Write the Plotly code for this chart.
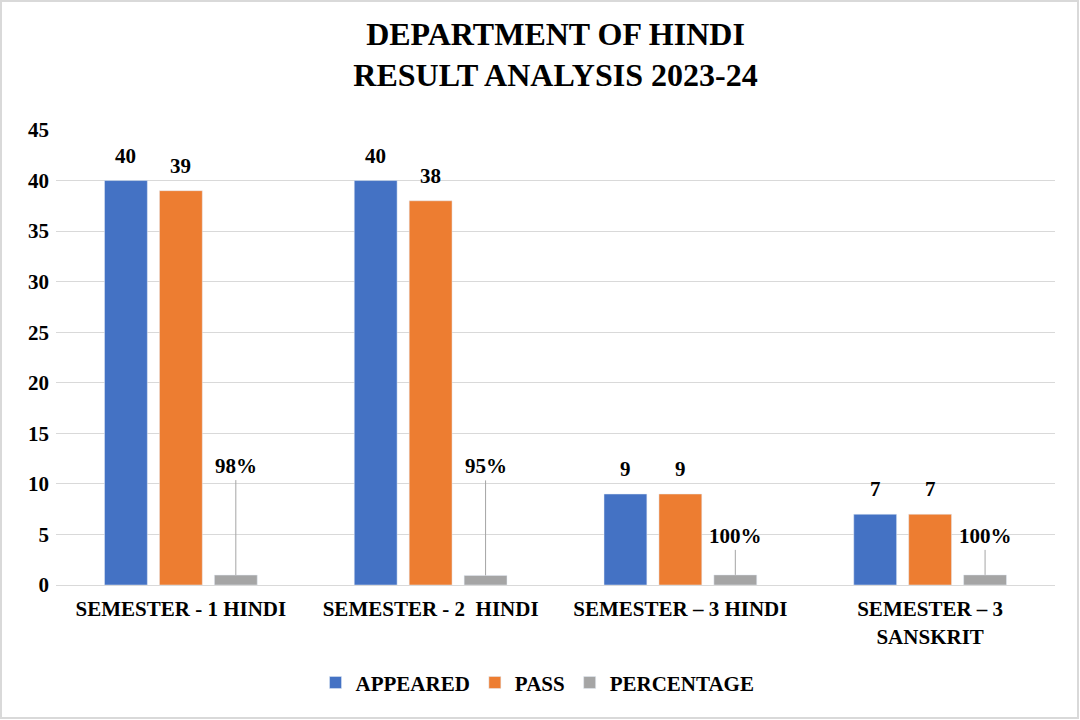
import plotly.graph_objects as go

# chart data
categories = ["SEMESTER - 1 HINDI", "SEMESTER - 2  HINDI", "SEMESTER – 3 HINDI", "SEMESTER – 3<br>SANSKRIT"]
appeared = [40, 40, 9, 7]
passed = [39, 38, 9, 7]
percentage = [0.98, 0.95, 1.0, 1.0]
pct_labels = ["98%", "95%", "100%", "100%"]

FONT = "Liberation Serif"
W, H = 1080, 720
L, R, T, B = 56, 25, 130, 135

fig = go.Figure()
fig.add_trace(go.Bar(x=categories, y=appeared, name="APPEARED", marker_color="#4472C4"))
fig.add_trace(go.Bar(x=categories, y=passed, name="PASS", marker_color="#ED7D31"))
fig.add_trace(go.Bar(x=categories, y=percentage, name="PERCENTAGE", marker_color="#A5A5A5"))

bargap = 0.34
slot = (1 - bargap) / 3
lab_font = dict(family=FONT, size=21, color="black", weight="bold")

# value labels above the count bars
for i in range(len(categories)):
    for off, vals in ((-slot, appeared), (0, passed)):
        fig.add_annotation(x=i + off, y=vals[i], text=str(vals[i]), showarrow=False,
                           yanchor="bottom", yshift=11, font=lab_font)

# percentage labels sit high above the tiny bars with leader lines
for i, lab in enumerate(pct_labels):
    offset = -95 if appeared[i] > 20 else -25
    fig.add_annotation(x=i + slot, y=percentage[i], text=lab, showarrow=True,
                       arrowhead=0, arrowwidth=1, arrowcolor="#A5A5A5",
                       ax=0, ay=offset, standoff=0, yanchor="bottom",
                       font=lab_font)

pw = W - L - R
ph = H - T - B
fig.add_shape(type="rect", xref="paper", yref="paper",
              x0=-(L - 1) / pw, x1=1 + (R - 2) / pw,
              y0=-(B - 2) / ph, y1=1 + (T - 1) / ph,
              line=dict(color="#D9D9D9", width=2), layer="below")

fig.update_layout(
    width=W, height=H,
    margin=dict(l=L, r=R, t=T, b=B),
    paper_bgcolor="white", plot_bgcolor="white",
    barmode="group", bargap=bargap, bargroupgap=0.22,
    title=dict(text="DEPARTMENT OF HINDI<br>RESULT ANALYSIS 2023-24",
               x=0.5, xref="paper", xanchor="center", y=0.938, yanchor="middle",
               font=dict(family=FONT, size=32, color="black", weight="bold")),
    font=dict(family=FONT, size=21, color="black", weight="bold"),
    legend=dict(orientation="h", x=0.482, xanchor="center",
                y=-0.215, yanchor="middle",
                font=dict(family=FONT, size=21, weight="bold"), itemwidth=30),
)
fig.update_yaxes(range=[0, 45], dtick=5, showgrid=True, gridcolor="#D9D9D9", gridwidth=1,
                 zeroline=False, showline=False, ticks="", ticklabelstandoff=6,
                 tickfont=dict(family=FONT, size=21, weight="bold"))
fig.update_xaxes(showline=True, linecolor="#D9D9D9", linewidth=1, ticks="",
                 ticklabelstandoff=5, tickfont=dict(family=FONT, size=21, weight="bold"))

fig.write_html("out.html", config={"displayModeBar": False},
               post_script="document.body.style.margin='0';")
